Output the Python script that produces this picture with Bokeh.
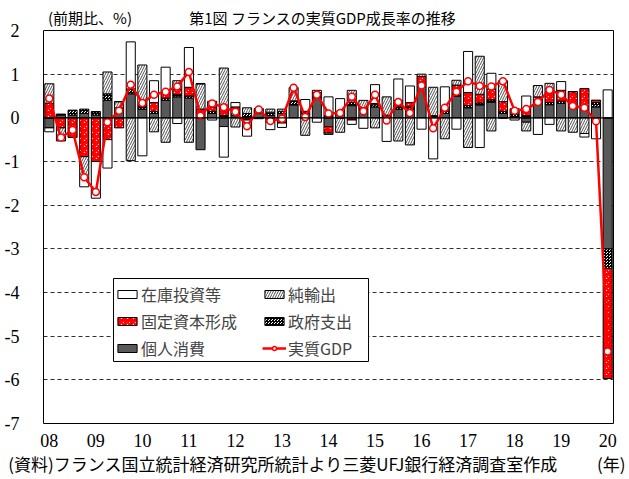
from bokeh.plotting import figure
from bokeh.models import FixedTicker, Span, Legend, LegendItem, LinearAxis, BoxAnnotation
from bokeh.embed import file_html
from bokeh.resources import INLINE

# ---- data (contribution to q/q real GDP growth, % pt) ----
quarters = ["2008Q1","2008Q2","2008Q3","2008Q4","2009Q1","2009Q2","2009Q3","2009Q4",
            "2010Q1","2010Q2","2010Q3","2010Q4","2011Q1","2011Q2","2011Q3","2011Q4",
            "2012Q1","2012Q2","2012Q3","2012Q4","2013Q1","2013Q2","2013Q3","2013Q4",
            "2014Q1","2014Q2","2014Q3","2014Q4","2015Q1","2015Q2","2015Q3","2015Q4",
            "2016Q1","2016Q2","2016Q3","2016Q4","2017Q1","2017Q2","2017Q3","2017Q4",
            "2018Q1","2018Q2","2018Q3","2018Q4","2019Q1","2019Q2","2019Q3","2019Q4",
            "2020Q1"]
consumption = [-0.23,0.06,0.06,0.10,0.06,0.40,0.14,0.55,
               0.20,0.10,0.40,0.48,0.45,-0.73,0.10,-0.20,
               0.05,0.00,0.10,0.05,0.10,0.29,0.10,0.45,
               -0.20,0.10,0.28,0.15,0.25,0.02,0.20,0.20,
               0.70,0.00,0.10,0.50,0.23,0.29,0.36,0.10,
               0.00,-0.10,0.33,0.30,0.33,0.25,0.21,0.25,
               -3.00]
government = [0.00,0.02,0.11,0.10,0.08,0.15,0.09,0.11,
              0.05,0.05,0.05,0.05,0.05,0.05,0.05,0.05,
              0.10,0.10,0.08,0.08,0.05,0.10,0.05,0.05,
              0.05,0.05,0.08,0.08,0.05,0.04,0.05,0.05,
              0.05,0.05,0.05,0.05,0.05,0.05,0.05,0.05,
              0.08,0.05,0.05,0.05,0.05,0.05,0.05,0.10,
              -0.45]
investment = [0.33,-0.23,-0.45,-0.89,-1.00,-0.50,-0.23,0.00,
              0.07,0.20,0.15,0.12,0.20,0.15,0.10,0.20,
              0.10,-0.05,0.03,-0.10,-0.12,0.00,-0.02,0.08,
              -0.15,-0.01,-0.05,0.00,0.03,0.00,0.15,0.10,
              0.20,0.00,0.05,0.20,0.30,0.20,0.25,0.22,
              0.10,0.15,0.10,0.25,0.25,0.30,0.41,0.05,
              -2.52]
net_exports = [0.45,-0.30,0.00,-0.49,0.00,0.50,0.14,-0.98,
               0.89,-0.32,-0.56,0.20,-0.56,0.58,0.13,0.89,
               -0.21,0.13,-0.02,0.07,0.05,0.30,-0.38,0.05,
               -0.03,-0.32,0.27,0.17,-0.23,0.42,-0.53,-0.62,
               0.05,0.65,-0.48,0.11,-0.68,0.87,-0.30,0.48,
               0.03,-0.20,0.26,0.19,-0.30,-0.33,-0.36,0.00,
               0.00]
inventories = [-0.09,0.00,0.00,-0.20,-0.84,-0.65,0.00,1.08,
               -0.87,0.50,0.56,-0.13,0.91,0.00,-0.05,-0.70,
               0.10,-0.37,0.00,-0.17,-0.10,0.00,0.27,-0.10,
               0.43,0.29,-0.10,-0.24,0.43,-0.54,0.49,0.38,
               -0.26,-0.94,0.51,-0.26,0.94,-0.68,0.36,-0.01,
               -0.05,0.30,-0.38,-0.15,0.20,0.00,-0.08,-0.48,
               0.64]
real_gdp = [0.44,-0.45,-0.28,-1.36,-1.70,-0.10,0.16,0.76,
            0.34,0.53,0.60,0.72,1.05,0.05,0.33,0.24,
            0.14,-0.19,0.19,-0.07,-0.02,0.69,0.02,0.53,
            0.10,0.11,0.48,0.15,0.53,-0.06,0.36,0.11,
            0.74,-0.24,0.23,0.60,0.84,0.73,0.72,0.84,
            0.16,0.20,0.36,0.64,0.53,0.27,0.23,-0.08,
            -5.35]
year_labels = ["08","09","10","11","12","13","14","15","16","17","18","19","20"]
y_ticks = [2, 1, 0, -1, -2, -3, -4, -5, -6, -7]
y_tick_labels = ["2", "1", "0", "-1", "-2", "-3", "-4", "-5", "-6", "-7"]

TITLE = "第1図 フランスの実質GDP成長率の推移"
UNIT = "(前期比、%)"
YEAR_UNIT = "(年)"
SOURCE = "(資料)フランス国立統計経済研究所統計より三菱UFJ銀行経済調査室作成"

JP = "Noto Sans CJK JP"
SERIF = "Liberation Serif"

x = list(range(len(quarters)))

p = figure(width=629, height=479, output_backend="svg", toolbar_location=None,
           x_range=(-0.5, len(quarters) - 0.5), y_range=(-7, 2),
           min_border_left=43, min_border_right=16, min_border_top=30, min_border_bottom=56)
p.outline_line_color = "black"
p.outline_line_width = 1
p.background_fill_color = "white"

# main axes
p.yaxis.ticker = FixedTicker(ticks=y_ticks)
p.yaxis.major_label_overrides = dict(zip(y_ticks, y_tick_labels))
p.xaxis.ticker = FixedTicker(ticks=[4 * i for i in range(len(year_labels))])
p.xaxis.major_label_overrides = {4 * i: lab for i, lab in enumerate(year_labels)}
for ax in (p.xaxis, p.yaxis):
    ax.axis_line_color = None
    ax.major_tick_line_color = None
    ax.minor_tick_line_color = None
    ax.major_label_text_font = SERIF
    ax.major_label_text_font_size = "18px"
    ax.major_label_text_color = "black"
p.yaxis.major_label_standoff = 18
p.xaxis.major_tick_out = 0
p.xaxis.major_label_standoff = 10
p.xgrid.grid_line_color = None
p.ygrid.grid_line_color = "#303030"
p.ygrid.grid_line_dash = "4 3"
p.ygrid.grid_line_width = 1

# text rows placed with the x scale (unit + title above, source + year unit below)
top_axis = LinearAxis(ticker=FixedTicker(ticks=[3.5, 23.5]),
                      major_label_overrides={3.5: UNIT, 23.5: TITLE})
bottom_axis = LinearAxis(ticker=FixedTicker(ticks=[20.1, 48.3]),
                         major_label_overrides={20.1: SOURCE, 48.3: YEAR_UNIT})
for ax in (top_axis, bottom_axis):
    ax.axis_line_color = None
    ax.major_tick_line_color = None
    ax.minor_tick_line_color = None
    ax.major_tick_out = 0
    ax.major_tick_in = 0
    ax.major_label_text_font = JP
    ax.major_label_text_color = "black"
top_axis.major_label_text_font_size = "15px"
top_axis.major_label_standoff = 3
bottom_axis.major_label_text_font_size = "17px"
bottom_axis.major_label_standoff = 1
p.add_layout(top_axis, "above")
p.add_layout(bottom_axis, "below")

series = [
    ("個人消費", consumption, dict(fill_color="#595959")),
    ("政府支出", government, dict(fill_color="white", hatch_pattern="criss_cross",
                                 hatch_color="black", hatch_scale=3, hatch_weight=1)),
    ("固定資本形成", investment, dict(fill_color="white", hatch_pattern="criss_cross",
                                   hatch_color="#ff0000", hatch_scale=6, hatch_weight=2.2)),
    ("純輸出", net_exports, dict(fill_color="white", hatch_pattern="right_diagonal_line",
                               hatch_color="#505050", hatch_scale=5, hatch_weight=1)),
    ("在庫投資等", inventories, dict(fill_color="white")),
]

pos_base = [0.0] * len(x)
neg_base = [0.0] * len(x)
renderers = {}
for name, vals, style in series:
    bottoms, tops = [], []
    for i, v in enumerate(vals):
        if v >= 0:
            bottoms.append(pos_base[i]); tops.append(pos_base[i] + v); pos_base[i] += v
        else:
            bottoms.append(neg_base[i]); tops.append(neg_base[i] + v); neg_base[i] += v
    r = p.vbar(x=x, bottom=bottoms, top=tops, width=0.78,
               line_color="black", line_width=1, **style)
    renderers[name] = r

zero = Span(location=0, dimension="width", line_color="black", line_width=1.2)
p.add_layout(zero)

gl = p.line(x, real_gdp, line_color="#ff0000", line_width=2.5)
gs = p.scatter(x, real_gdp, marker="circle", size=7, fill_color="white",
               line_color="#ff0000", line_width=1.5)

# legend frame (white box with black border) and two legend columns inside it
legend_box = BoxAnnotation(left=5.52, right=27.44, top=-3.68, bottom=-5.58,
                           fill_color="white", fill_alpha=1,
                           line_color="black", line_width=1, line_alpha=1)
p.add_layout(legend_box)

def make_legend(items, loc):
    lg = Legend(items=items, location=loc, orientation="vertical")
    lg.label_text_font = JP
    lg.label_text_font_size = "16px"
    lg.glyph_width = 24
    lg.glyph_height = 10
    lg.label_standoff = 2
    lg.spacing = 3
    lg.padding = 5
    lg.margin = 0
    lg.border_line_color = None
    lg.background_fill_alpha = 0
    return lg

legend_a = make_legend([
    LegendItem(label="在庫投資等", renderers=[renderers["在庫投資等"]]),
    LegendItem(label="固定資本形成", renderers=[renderers["固定資本形成"]]),
    LegendItem(label="個人消費", renderers=[renderers["個人消費"]]),
], (72, 63))
legend_b = make_legend([
    LegendItem(label="純輸出", renderers=[renderers["純輸出"]]),
    LegendItem(label="政府支出", renderers=[renderers["政府支出"]]),
    LegendItem(label="実質GDP", renderers=[gl, gs]),
], (219, 63))
p.add_layout(legend_a, "center")
p.add_layout(legend_b, "center")

open("out.html", "w").write(file_html(p, INLINE))
